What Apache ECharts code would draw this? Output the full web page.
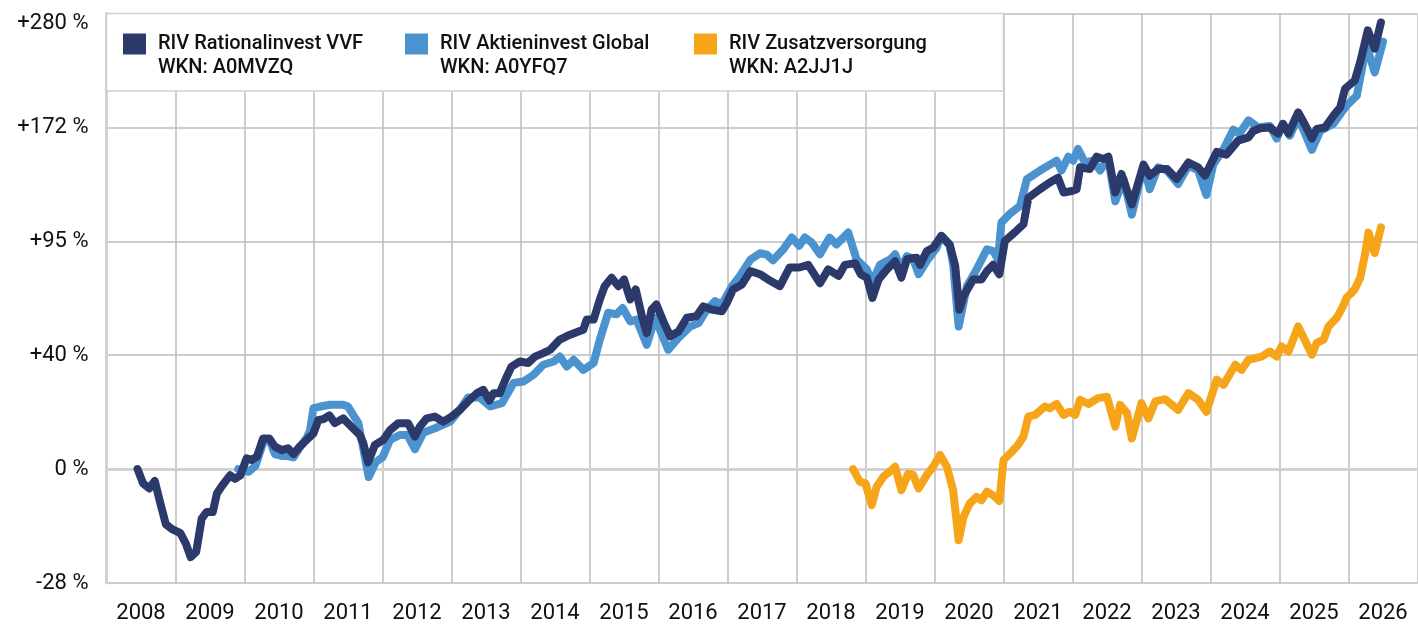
<!DOCTYPE html>
<html>
  <head>
    <meta charset="utf-8" />
    <title>RIV Wertentwicklung</title>
    <script type="text/javascript" src="https://cdn.jsdelivr.net/npm/echarts@6/dist/echarts.min.js"></script>
    <style>
      html, body { margin: 0; padding: 0; background: #fff; }
    </style>
  </head>
  <body>
    <div id="main" style="width:1418px;height:628px;"></div>
    <script type="text/javascript">
      // Wertentwicklung in %, [Jahr, Prozent]
      var rationalinvest = [
        [2008.45, 0], [2008.53, -4.1], [2008.62, -5.5], [2008.70, -3.4], [2008.78, -9.5], [2008.86, -14.9],
        [2008.95, -16.1], [2009.07, -17.1], [2009.15, -19.6], [2009.22, -22.7], [2009.30, -21.5], [2009.38, -13.5],
        [2009.45, -11.8], [2009.54, -11.8], [2009.60, -6.9], [2009.67, -4.9], [2009.79, -1.8], [2009.86, -2.8],
        [2009.94, -1.8], [2010.03, 3.2], [2010.10, 2.7], [2010.18, 3.7], [2010.27, 9.4], [2010.36, 9.4],
        [2010.44, 6.8], [2010.54, 5.7], [2010.63, 6.3], [2010.71, 4.5], [2010.80, 6.8], [2010.90, 8.9],
        [2011.00, 11.0], [2011.07, 15.5], [2011.14, 15.7], [2011.23, 17.0], [2011.31, 14.4], [2011.43, 16.0],
        [2011.55, 13.2], [2011.67, 10.5], [2011.72, 8.0], [2011.79, 2.0], [2011.89, 7.3], [2012.01, 8.9],
        [2012.11, 12.1], [2012.23, 14.4], [2012.37, 14.4], [2012.47, 10.0], [2012.54, 13.2], [2012.64, 16.0],
        [2012.76, 16.6], [2012.88, 14.9], [2013.00, 16.6], [2013.12, 18.9], [2013.24, 21.9], [2013.37, 24.9],
        [2013.46, 26.1], [2013.55, 22.2], [2013.61, 24.9], [2013.70, 24.9], [2013.78, 29.9], [2013.87, 35.0],
        [2013.99, 37.0], [2014.11, 36.4], [2014.21, 39.0], [2014.33, 40.4], [2014.43, 41.8], [2014.57, 46.1],
        [2014.72, 48.2], [2014.84, 49.6], [2014.91, 50.4], [2014.96, 54.9], [2015.06, 54.9], [2015.15, 64.3],
        [2015.22, 70.8], [2015.32, 75.1], [2015.42, 70.8], [2015.50, 74.2], [2015.59, 64.3], [2015.67, 69.2],
        [2015.76, 56.4], [2015.83, 48.9], [2015.90, 59.5], [2015.97, 61.9], [2016.07, 54.1], [2016.17, 47.5],
        [2016.29, 49.6], [2016.41, 55.7], [2016.55, 56.4], [2016.65, 61.0], [2016.77, 59.5], [2016.92, 58.7],
        [2016.99, 62.6], [2017.08, 69.2], [2017.21, 71.7], [2017.33, 78.5], [2017.47, 76.9], [2017.62, 73.5],
        [2017.76, 70.8], [2017.90, 80.4], [2018.04, 80.4], [2018.17, 81.8], [2018.34, 72.3], [2018.46, 79.4],
        [2018.61, 76.0], [2018.70, 81.8], [2018.85, 82.7], [2018.93, 76.9], [2019.02, 75.1], [2019.10, 65.0],
        [2019.19, 74.2], [2019.31, 79.4], [2019.43, 83.7], [2019.52, 75.1], [2019.60, 84.8], [2019.74, 85.6],
        [2019.79, 81.8], [2019.89, 89.3], [2019.98, 91.1], [2020.10, 97.9], [2020.22, 93.0], [2020.30, 81.2],
        [2020.36, 59.5], [2020.42, 65.9], [2020.56, 74.2], [2020.68, 74.2], [2020.76, 78.5], [2020.85, 81.8],
        [2020.94, 76.9], [2021.02, 95.0], [2021.19, 100.9], [2021.29, 104.8], [2021.36, 121.3], [2021.53, 126.9],
        [2021.67, 131.4], [2021.79, 134.6], [2021.87, 124.7], [2021.99, 125.7], [2022.06, 126.9], [2022.11, 141.9],
        [2022.25, 140.6], [2022.35, 149.5], [2022.45, 147.8], [2022.52, 149.5], [2022.62, 124.7], [2022.71, 137.2],
        [2022.86, 117.0], [2023.03, 143.8], [2023.12, 136.0], [2023.24, 140.6], [2023.37, 140.6], [2023.51, 133.7],
        [2023.68, 145.3], [2023.82, 141.9], [2023.92, 136.0], [2024.09, 153.0], [2024.23, 151.0], [2024.40, 161.5],
        [2024.55, 164.0], [2024.62, 169.0], [2024.72, 171.2], [2024.86, 171.8], [2024.98, 167.0], [2025.05, 174.7],
        [2025.13, 167.0], [2025.27, 184.1], [2025.37, 174.0], [2025.47, 163.1], [2025.54, 170.6], [2025.66, 171.8],
        [2025.78, 181.2], [2025.88, 188.3], [2025.95, 204.4], [2026.09, 211.8], [2026.17, 229.2], [2026.28, 261.2],
        [2026.38, 242.3], [2026.47, 269.5]
      ];

      var aktieninvest = [
        [2009.91, 0], [2010.06, -0.8], [2010.16, 1.0], [2010.27, 8.0], [2010.36, 9.0], [2010.44, 4.5],
        [2010.54, 3.9], [2010.63, 3.9], [2010.71, 3.5], [2010.80, 6.5], [2010.90, 9.5], [2010.95, 12.0],
        [2011.00, 19.5], [2011.10, 20.1], [2011.24, 20.7], [2011.43, 20.7], [2011.50, 20.1], [2011.65, 14.4],
        [2011.80, -2.3], [2011.90, 2.0], [2012.00, 3.5], [2012.11, 8.9], [2012.25, 10.5], [2012.36, 10.5],
        [2012.47, 6.0], [2012.59, 11.2], [2012.76, 12.7], [2012.98, 14.9], [2013.12, 18.9], [2013.24, 23.3],
        [2013.41, 23.3], [2013.56, 20.1], [2013.73, 21.3], [2013.90, 28.7], [2014.04, 29.2], [2014.19, 31.8],
        [2014.33, 35.7], [2014.48, 37.0], [2014.57, 39.0], [2014.67, 35.0], [2014.77, 37.7], [2014.91, 33.7],
        [2015.06, 36.4], [2015.15, 46.1], [2015.27, 58.0], [2015.39, 57.3], [2015.48, 60.2], [2015.59, 54.1],
        [2015.68, 54.9], [2015.83, 43.9], [2015.95, 55.7], [2016.14, 41.8], [2016.29, 46.8], [2016.46, 51.8],
        [2016.58, 53.3], [2016.70, 59.5], [2016.82, 63.5], [2016.92, 61.9], [2017.06, 70.5], [2017.18, 76.0],
        [2017.33, 84.5], [2017.47, 88.1], [2017.57, 87.3], [2017.66, 84.3], [2017.81, 90.3], [2017.93, 96.9],
        [2018.04, 92.3], [2018.12, 96.9], [2018.22, 94.1], [2018.34, 87.5], [2018.48, 96.9], [2018.58, 93.0],
        [2018.75, 99.8], [2018.87, 84.8], [2019.02, 79.4], [2019.09, 72.3], [2019.21, 81.8], [2019.36, 84.8],
        [2019.43, 87.5], [2019.52, 79.4], [2019.60, 86.5], [2019.69, 85.0], [2019.77, 76.9], [2019.89, 83.9],
        [2020.03, 91.1], [2020.10, 97.9], [2020.22, 92.3], [2020.27, 82.0], [2020.35, 51.8], [2020.47, 70.8],
        [2020.61, 79.4], [2020.76, 90.3], [2020.85, 89.3], [2020.92, 84.8], [2020.97, 105.9], [2021.09, 111.0],
        [2021.24, 116.1], [2021.34, 133.7], [2021.53, 139.6], [2021.65, 143.1], [2021.77, 146.6], [2021.84, 139.6],
        [2021.94, 149.5], [2022.01, 146.6], [2022.08, 155.2], [2022.18, 145.3], [2022.30, 146.6], [2022.40, 139.6],
        [2022.52, 147.8], [2022.62, 119.0], [2022.74, 133.7], [2022.86, 110.6], [2023.03, 143.1], [2023.12, 126.9],
        [2023.24, 141.9], [2023.37, 139.6], [2023.53, 130.3], [2023.68, 143.1], [2023.82, 139.6], [2023.94, 123.0],
        [2024.04, 143.8], [2024.19, 155.2], [2024.33, 170.0], [2024.42, 167.0], [2024.55, 177.5], [2024.69, 171.8],
        [2024.86, 173.0], [2024.96, 163.1], [2025.05, 174.7], [2025.15, 165.4], [2025.27, 180.0], [2025.47, 154.5],
        [2025.59, 169.0], [2025.78, 174.7], [2025.97, 189.6], [2026.12, 198.3], [2026.26, 245.7], [2026.38, 219.3],
        [2026.50, 249.3]
      ];

      var zusatzversorgung = [
        [2018.82, 0], [2018.92, -3.7], [2019.00, -4.1], [2019.09, -10.0], [2019.16, -5.1], [2019.26, -2.2],
        [2019.38, -0.3], [2019.43, 0.7], [2019.52, -6.0], [2019.62, -1.3], [2019.69, -1.7], [2019.77, -5.5],
        [2019.89, -1.7], [2019.98, 0.7], [2020.08, 4.2], [2020.18, 0.7], [2020.27, -6.0], [2020.35, -18.8],
        [2020.42, -13.1], [2020.51, -9.6], [2020.61, -7.8], [2020.68, -8.7], [2020.76, -6.4], [2020.85, -7.4],
        [2020.94, -8.9], [2021.00, 2.7], [2021.12, 5.2], [2021.21, 7.3], [2021.29, 10.0], [2021.36, 16.6],
        [2021.46, 17.2], [2021.60, 20.1], [2021.67, 19.5], [2021.77, 21.0], [2021.87, 17.2], [2021.96, 18.3],
        [2022.04, 17.2], [2022.11, 22.5], [2022.23, 21.0], [2022.37, 23.1], [2022.50, 23.6], [2022.62, 13.2],
        [2022.69, 20.7], [2022.79, 17.8], [2022.86, 9.4], [2023.00, 21.3], [2023.10, 16.0], [2023.20, 21.9],
        [2023.34, 22.7], [2023.53, 18.9], [2023.68, 24.9], [2023.82, 22.5], [2023.94, 18.3], [2024.09, 29.9],
        [2024.19, 28.0], [2024.36, 35.7], [2024.45, 33.7], [2024.55, 37.7], [2024.74, 39.0], [2024.86, 41.1],
        [2024.96, 39.0], [2025.03, 43.2], [2025.13, 41.1], [2025.27, 51.8], [2025.47, 39.8], [2025.54, 44.7],
        [2025.64, 46.1], [2025.71, 51.8], [2025.83, 55.7], [2025.92, 61.0], [2025.97, 65.0], [2026.09, 69.2],
        [2026.17, 75.1], [2026.24, 87.5], [2026.29, 99.8], [2026.38, 88.1], [2026.47, 102.9]
      ];

      var seriesNames = ['RIV Rationalinvest VVF', 'RIV Aktieninvest Global', 'RIV Zusatzversorgung'];
      var wkns = ['A0MVZQ', 'A0YFQ7', 'A2JJ1J'];
      var colors = ['#2c3a6b', '#4b93cf', '#f6a51b'];

      var years = [];
      for (var y = 2008; y <= 2026; y++) years.push(String(y));

      // logarithmische Skala: Ticks bei ln(1+r) = -1/3, 0, 1/3, ...
      var yTickLabels = ['-28 %', '0 %', '+40 %', '+95 %', '+172 %', '+280 %'];

      function toLog(arr) {
        return arr.map(function (d) { return [d[0], Math.log(1 + d[1] / 100)]; });
      }

      window.onload = function () {
        var myChart = echarts.init(document.getElementById('main'));
        var font = 'Roboto';
        var legendX = [123, 405, 694];

        var option = {
          animation: false,
          backgroundColor: '#fff',
          grid: {
            left: 106.5,
            right: 0.5,
            top: 13.5,
            bottom: 45,
            containLabel: false,
            outerBoundsMode: 'none'
          },
          graphic: {
            elements: [{
              type: 'rect',
              z: 3,
              shape: { x: 106.5, y: 13.5, width: 897, height: 77.5 },
              style: { fill: '#fff', stroke: '#cfcfcf', lineWidth: 1.5 }
            }]
          },
          legend: seriesNames.map(function (name, i) {
            return {
              left: legendX[i],
              top: 8,
              padding: 0,
              z: 5,
              selectedMode: false,
              icon: 'rect',
              itemWidth: 23,
              itemHeight: 21,
              data: [name],
              // leere erste Zeile, damit der Name neben dem Symbol steht
              formatter: function (n) {
                return ' \n' + n + '\nWKN: ' + wkns[seriesNames.indexOf(n)];
              },
              textStyle: {
                fontFamily: font,
                fontSize: 20,
                fontWeight: 500,
                lineHeight: 24,
                color: '#111',
                padding: [0, 0, 0, 7]
              }
            };
          }),
          xAxis: [
            {
              type: 'value',
              min: 2008,
              max: 2027,
              interval: 1,
              axisLabel: { show: false },
              axisTick: { show: false },
              axisLine: { show: true, lineStyle: { color: '#d2d2d2', width: 3 } },
              splitLine: { show: true, lineStyle: { color: '#bdbdbd', width: 1.5 } }
            },
            {
              type: 'category',
              position: 'bottom',
              data: years,
              boundaryGap: true,
              axisLine: { show: false },
              axisTick: { show: false },
              splitLine: { show: false },
              axisLabel: {
                interval: 0,
                margin: 19,
                fontFamily: font,
                fontSize: 22,
                color: '#111'
              }
            }
          ],
          yAxis: {
            type: 'value',
            min: -1 / 3,
            max: 4 / 3,
            interval: 1 / 3,
            axisTick: { show: false },
            axisLine: { show: true, lineStyle: { color: '#d2d2d2', width: 3 } },
            splitLine: { show: true, lineStyle: { color: '#bdbdbd', width: 1.5 } },
            axisLabel: {
              margin: 18,
              fontFamily: font,
              fontSize: 22,
              color: '#111',
              formatter: function (v) {
                var idx = Math.round(v * 3) + 1;
                if (idx === yTickLabels.length - 1) return '{top|' + yTickLabels[idx] + '}';
                return yTickLabels[idx];
              },
              rich: {
                top: { fontFamily: font, fontSize: 22, color: '#111', padding: [20, 0, 0, 0] }
              }
            }
          },
          series: [
            {
              name: seriesNames[0],
              type: 'line',
              xAxisIndex: 0,
              z: 4,
              showSymbol: false,
              symbol: 'none',
              data: toLog(rationalinvest),
              itemStyle: { color: colors[0] },
              lineStyle: { color: colors[0], width: 8, cap: 'round', join: 'round' }
            },
            {
              name: seriesNames[1],
              type: 'line',
              xAxisIndex: 0,
              z: 3,
              showSymbol: false,
              symbol: 'none',
              data: toLog(aktieninvest),
              itemStyle: { color: colors[1] },
              lineStyle: { color: colors[1], width: 8, cap: 'round', join: 'round' }
            },
            {
              name: seriesNames[2],
              type: 'line',
              xAxisIndex: 0,
              z: 3,
              showSymbol: false,
              symbol: 'none',
              data: toLog(zusatzversorgung),
              itemStyle: { color: colors[2] },
              lineStyle: { color: colors[2], width: 8, cap: 'round', join: 'round' }
            }
          ]
        };
        myChart.setOption(option);
      };
    </script>
  </body>
</html>
